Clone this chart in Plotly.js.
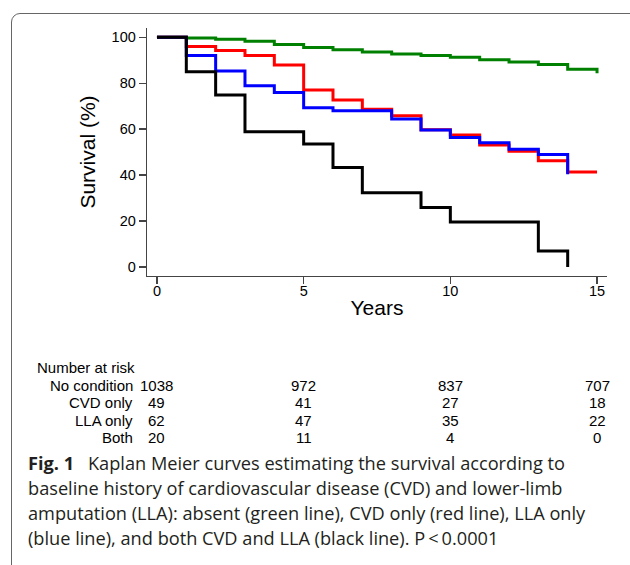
<!DOCTYPE html>
<html>
<head>
<meta charset="utf-8">
<script src="https://cdn.plot.ly/plotly-3.0.1.min.js"></script>
<style>
  html, body { margin:0; padding:0; background:#fff; overflow:hidden; }
  #wrap { position:relative; width:630px; height:565px; overflow:hidden; }
  #chart { position:absolute; left:0; top:0; width:630px; height:565px; }
  #frame { position:absolute; left:11px; top:13px; width:660px; height:600px;
           border:1px solid #666; border-radius:9px; pointer-events:none; }
</style>
</head>
<body>
<div id="wrap">
  <div id="chart"></div>
  <div id="frame"></div>
</div>
<script>
// ---- data ----
const groupNames = ["No condition", "CVD only", "LLA only", "Both"];

const greenYears = [0, 1, 2, 3, 4, 5, 6, 7, 8, 9, 10, 11, 12, 13, 14, 15];
const greenSurv  = [100, 99.7, 99.1, 98.2, 96.8, 95.5, 94.5, 93.6, 92.7, 92.0, 91.3, 90.2, 89.2, 88.1, 86.0, 84.3];

const redYears = [0, 1, 2, 3, 4, 5, 6, 7, 8, 9, 10, 11, 12, 13, 14, 15];
const redSurv  = [100, 95.9, 94.2, 92.0, 87.9, 77.0, 72.7, 68.6, 65.8, 59.7, 57.4, 53.1, 50.4, 46.2, 41.4, 41.4];

const blueYears = [0, 1, 2, 3, 4, 5, 6, 8, 9, 10, 11, 12, 13, 14];
const blueSurv  = [100, 92.0, 85.3, 78.9, 75.9, 69.3, 68.0, 64.4, 59.6, 56.4, 54.1, 51.2, 49.0, 40.4];

const blackYears = [0, 1, 2, 3, 5, 6, 7, 9, 10, 13, 14];
const blackSurv  = [100, 85.0, 74.8, 58.9, 53.5, 43.3, 32.3, 25.9, 19.6, 7.0, 0];

const riskTimes = [0, 5, 10, 15];
const riskNoCondition = [1038, 972, 837, 707];
const riskCVD = [49, 41, 27, 18];
const riskLLA = [62, 47, 35, 22];
const riskBoth = [20, 11, 4, 0];

const xTicks = [0, 5, 10, 15];
const yTicks = [0, 20, 40, 60, 80, 100];

const captionLines = [
  "<b>Fig. 1</b>\u2002 Kaplan Meier curves estimating the survival according to",
  "baseline history of cardiovascular disease (CVD) and lower-limb",
  "amputation (LLA): absent (green line), CVD only (red line), LLA only",
  "(blue line), and both CVD and LLA (black line). P\u2009<\u20090.0001"
];

// ---- layout helpers ----
const W = 630, H = 565;
const M = {l: 147, r: 23, t: 28, b: 289};
const pw = W - M.l - M.r, ph = H - M.t - M.b;
const px2paperX = px => (px - M.l) / pw;
const py2paperY = py => (H - M.b - py) / ph;

const sans = "'Liberation Sans', Arial, Helvetica, sans-serif";

function kmTrace(x, y, color) {
  return {
    x: x, y: y, type: "scatter", mode: "lines",
    line: {shape: "hv", color: color, width: 3},
    hoverinfo: "skip", showlegend: false
  };
}

const traces = [
  kmTrace(greenYears, greenSurv, "rgb(0,128,0)"),
  kmTrace(redYears, redSurv, "rgb(255,0,0)"),
  kmTrace(blueYears, blueSurv, "rgb(0,0,255)"),
  kmTrace(blackYears, blackSurv, "rgb(0,0,0)")
];

const annotations = [];
const tableFont = {family: sans, size: 15, color: "#000"};
annotations.push({
  xref: "paper", yref: "paper", x: px2paperX(35), y: py2paperY(367.7),
  xanchor: "left", yanchor: "middle", showarrow: false,
  text: "Number at risk", font: tableFont
});
const riskRows = [riskNoCondition, riskCVD, riskLLA, riskBoth];
const rowY = [385.7, 402.9, 420.1, 437.3];
riskRows.forEach((row, i) => {
  annotations.push({
    xref: "paper", yref: "paper", x: px2paperX(134.5), y: py2paperY(rowY[i]),
    xanchor: "right", yanchor: "middle", showarrow: false,
    text: groupNames[i], font: tableFont
  });
  row.forEach((n, j) => {
    annotations.push({
      xref: "x", yref: "paper", x: riskTimes[j], y: py2paperY(rowY[i]),
      xanchor: "center", yanchor: "middle", showarrow: false,
      text: String(n), font: tableFont
    });
  });
});

const capY = [463.3, 488.3, 513.3, 538.3];
captionLines.forEach((t, i) => {
  annotations.push({
    xref: "paper", yref: "paper", x: px2paperX(26), y: py2paperY(capY[i]),
    xanchor: "left", yanchor: "middle", showarrow: false,
    text: t, font: {family: "'Open Sans', 'Noto Sans', sans-serif", size: 18.2, color: "#231f20"}
  });
});

const layout = {
  width: W, height: H,
  margin: M,
  paper_bgcolor: "rgba(0,0,0,0)",
  plot_bgcolor: "rgba(0,0,0,0)",
  showlegend: false,
  xaxis: {
    range: [-0.34, 15.34],
    tickvals: xTicks, ticktext: xTicks.map(String),
    ticks: "outside", ticklen: 7, tickwidth: 1.3, tickcolor: "#444",
    ticklabelstandoff: -6,
    showline: true, linecolor: "#444", linewidth: 1.3,
    showgrid: false, zeroline: false,
    tickfont: {family: sans, size: 14.5, color: "#000"},
    title: {text: "Years", font: {family: sans, size: 21, color: "#000"}, standoff: 2},
    automargin: false
  },
  yaxis: {
    range: [-3.9, 104.0],
    tickvals: yTicks, ticktext: yTicks.map(String),
    ticks: "outside", ticklen: 7, tickwidth: 1.3, tickcolor: "#444",
    showline: true, linecolor: "#444", linewidth: 1.3,
    showgrid: false, zeroline: false,
    tickfont: {family: sans, size: 14.5, color: "#000"},
    title: {text: "Survival (%)", font: {family: sans, size: 21, color: "#000"}, standoff: 10},
    automargin: false
  },
  annotations: annotations
};

Plotly.newPlot("chart", traces, layout, {displayModeBar: false, staticPlot: true});
</script>
</body>
</html>
